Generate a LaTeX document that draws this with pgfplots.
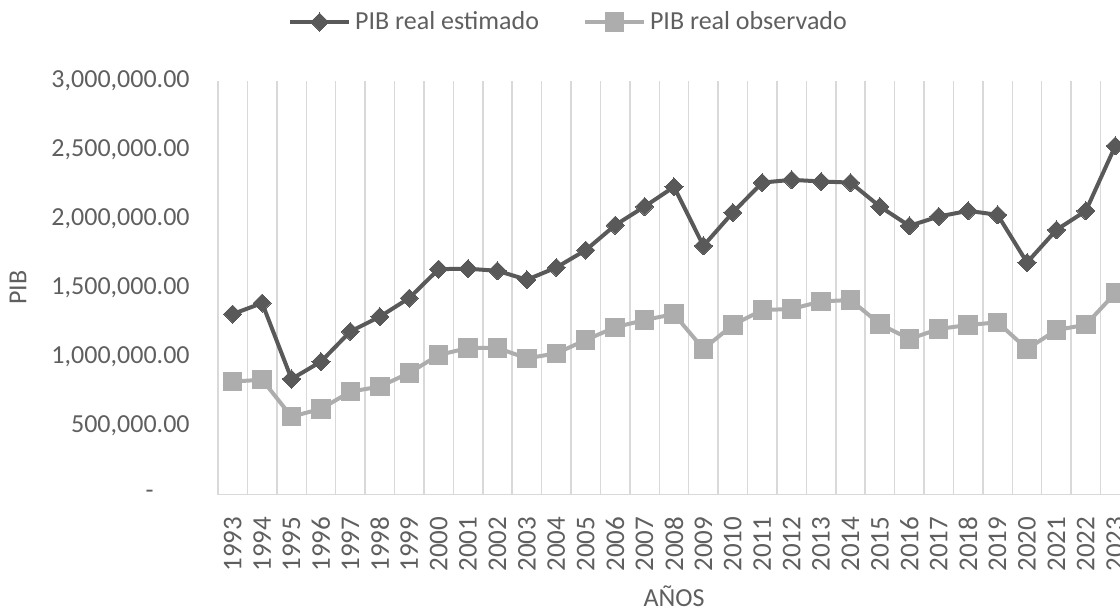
\documentclass[border=0pt]{standalone}
\usepackage{fontspec}
\setmainfont{Carlito}
\usepackage{pgfplots}
\pgfplotsset{compat=1.18}
\definecolor{textc}{HTML}{5F5F5F}
\definecolor{darkc}{HTML}{595959}
\definecolor{lightc}{HTML}{ADADAD}
\definecolor{gridc}{HTML}{D9D9D9}
\begin{document}
\begin{tikzpicture}
\begin{axis}[
  scale only axis,
  width=456pt, height=206.75pt,
  xmin=1992.5, xmax=2023.5,
  ymin=0, ymax=3000000,
  scaled y ticks=false,
  axis line style={draw=none},
  xtick={1993,1994,...,2023},
  minor xtick={1992.5,1993.5,...,2023.5},
  xminorgrids,
  minor grid style={gridc, line width=0.75pt},
  major tick length=0pt, minor tick length=0pt,
  ytick={0,500000,1000000,1500000,2000000,2500000,3000000},
  yticklabels={{-\rule{18pt}{0pt}},{500,000.00},{1,000,000.00},{1,500,000.00},{2,000,000.00},{2,500,000.00},{3,000,000.00}},
  extra y ticks={0},
  extra y tick labels={},
  extra y tick style={ymajorgrids, major grid style={gridc, line width=0.75pt}},
  /pgf/number format/1000 sep={},
  /pgf/number format/assume math mode=true,
  yticklabel style={font=\fontsize{13pt}{15pt}\selectfont, text=textc, anchor=east, inner sep=0pt, xshift=-14pt},
  xticklabel style={font=\fontsize{13.5pt}{15pt}\selectfont, text=textc, rotate=90, anchor=east, inner sep=0pt},
  xticklabel shift=11pt,
  xlabel={AÑOS},
  ylabel={PIB},
  xlabel style={font=\fontsize{13pt}{15pt}\selectfont, text=textc, at={(axis description cs:0.5,0)}, anchor=center, yshift=-50.75pt},
  ylabel style={font=\fontsize{13pt}{15pt}\selectfont, text=textc, at={(axis description cs:-0.2193,0.5)}, anchor=center},
  legend style={draw=none, fill=none, at={(axis description cs:0.3854,1.1427)}, anchor=center,
    font=\fontsize{13pt}{15pt}\selectfont, text=textc, legend columns=2,
    /tikz/every even column/.append style={column sep=20pt}},
  legend image code/.code={\draw[mark repeat=2,mark phase=2] plot coordinates {(0pt,0pt) (14.75pt,0pt) (29.5pt,0pt)};},
]
\addplot[darkc, line width=2pt, mark=square*, mark size=3.2pt, mark options={rotate=45, fill=darkc, draw=darkc, line width=0pt}] coordinates {
(1993,1309000) (1994,1389000) (1995,838000) (1996,964000) (1997,1183000)
(1998,1290000) (1999,1425000) (2000,1635000) (2001,1638000) (2002,1623000)
(2003,1558000) (2004,1647000) (2005,1773000) (2006,1954000) (2007,2089000)
(2008,2232000) (2009,1804000) (2010,2046000) (2011,2263000) (2012,2283000)
(2013,2271000) (2014,2263000) (2015,2089000) (2016,1949000) (2017,2017000)
(2018,2058000) (2019,2029000) (2020,1683000) (2021,1920000) (2022,2058000)
(2023,2529000)};
\addlegendentry{PIB real estimado}
\addplot[lightc, line width=2pt, mark=square*, mark size=4.6pt, mark options={fill=lightc, draw=lightc, line width=0pt}] coordinates {
(1993,819000) (1994,833000) (1995,565000) (1996,621000) (1997,746000)
(1998,783000) (1999,882000) (2000,1012000) (2001,1063000) (2002,1063000)
(2003,988000) (2004,1024000) (2005,1121000) (2006,1213000) (2007,1266000)
(2008,1309000) (2009,1056000) (2010,1230000) (2011,1338000) (2012,1346000)
(2013,1401000) (2014,1411000) (2015,1237000) (2016,1128000) (2017,1201000)
(2018,1230000) (2019,1249000) (2020,1056000) (2021,1193000) (2022,1232000)
(2023,1461000)};
\addlegendentry{PIB real observado}
\coordinate (bl) at (axis description cs:0,0);
\end{axis}
\pgfresetboundingbox
\path[use as bounding box] ([xshift=-109pt, yshift=-55.75pt]bl) rectangle ([xshift=451pt, yshift=247.25pt]bl);
\end{tikzpicture}
\end{document}
